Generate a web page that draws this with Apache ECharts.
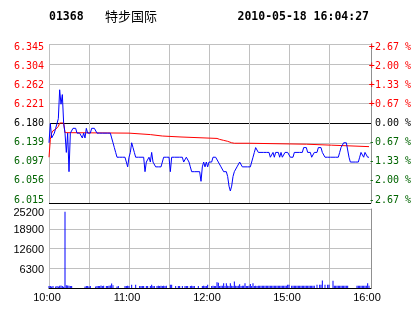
<!DOCTYPE html>
<html><head><meta charset="utf-8">
<script src="https://cdn.jsdelivr.net/npm/echarts@6/dist/echarts.min.js"></script>
<style>html,body{margin:0;padding:0;background:#fff}#c{width:414px;height:314px}</style>
</head><body><div id="c"></div>
<script>
const stockCode = '01368';
const stockName = '特步国际';
const timestamp = '2010-05-18 16:04:27';
const timeLabels = {0: '10:00', 60: '11:00', 120: '12:00', 180: '15:00', 240: '16:00'};
const priceLabels = ['6.015', '6.056', '6.097', '6.139', '6.180', '6.221', '6.262', '6.304', '6.345'];
const pctLabels = ['-2.67 %', '-2.00 %', '-1.33 %', '-0.67 %', ' 0.00 %', '+0.67 %', '+1.33 %', '+2.00 %', '+2.67 %'];
const volumeLabels = ['', '6300', '12600', '18900', '25200'];
const priceMin = 6.015;
const priceMax = 6.345;
const volumeMax = 25200;
const sessionMinutes = 240;

// last price per minute (minute 0 = 10:00, 150 = 12:30/14:30, 240 = 16:00)
const prices = [
  6.14, 6.18, 6.15, 6.15, 6.16, 6.17, 6.18, 6.19, 6.25, 6.22,
  6.24, 6.18, 6.16, 6.12, 6.16, 6.08, 6.16, 6.16, 6.17, 6.17,
  6.17, 6.16, 6.16, 6.16, 6.16, 6.15, 6.16, 6.15, 6.17, 6.16,
  6.16, 6.16, 6.17, 6.17, 6.17, 6.17, 6.16, 6.16, 6.16, 6.16,
  6.16, 6.16, 6.16, 6.16, 6.16, 6.16, 6.16, 6.15, 6.14, 6.13,
  6.12, 6.11, 6.11, 6.11, 6.11, 6.11, 6.11, 6.11, 6.10, 6.09,
  6.11, 6.12, 6.14, 6.13, 6.12, 6.11, 6.11, 6.11, 6.11, 6.11,
  6.11, 6.11, 6.08, 6.10, 6.10, 6.11, 6.10, 6.12, 6.10, 6.10,
  6.09, 6.09, 6.09, 6.09, 6.09, 6.10, 6.11, 6.11, 6.11, 6.11,
  6.11, 6.08, 6.11, 6.11, 6.11, 6.11, 6.11, 6.11, 6.11, 6.11,
  6.11, 6.10, 6.10, 6.11, 6.11, 6.10, 6.09, 6.08, 6.08, 6.08,
  6.08, 6.08, 6.08, 6.08, 6.06, 6.09, 6.10, 6.09, 6.10, 6.09,
  6.10, 6.10, 6.10, 6.11, 6.11, 6.11, 6.11, 6.10, 6.10, 6.09,
  6.09, 6.08, 6.08, 6.08, 6.07, 6.05, 6.04, 6.05, 6.07, 6.08,
  6.08, 6.09, 6.09, 6.10, 6.10, 6.09, 6.09, 6.09, 6.09, 6.09,
  6.09, 6.09, 6.09, 6.11, 6.12, 6.13, 6.13, 6.12, 6.12, 6.12,
  6.12, 6.12, 6.12, 6.12, 6.12, 6.12, 6.11, 6.11, 6.12, 6.11,
  6.12, 6.12, 6.12, 6.11, 6.12, 6.11, 6.11, 6.12, 6.12, 6.12,
  6.12, 6.11, 6.11, 6.11, 6.12, 6.12, 6.12, 6.12, 6.12, 6.12,
  6.12, 6.13, 6.13, 6.13, 6.12, 6.12, 6.12, 6.11, 6.11, 6.12,
  6.12, 6.12, 6.13, 6.13, 6.13, 6.12, 6.12, 6.11, 6.11, 6.11,
  6.11, 6.11, 6.11, 6.11, 6.11, 6.11, 6.11, 6.11, 6.12, 6.13,
  6.13, 6.14, 6.14, 6.14, 6.14, 6.11, 6.10, 6.10, 6.10, 6.10,
  6.10, 6.10, 6.10, 6.11, 6.12, 6.12, 6.11, 6.12, 6.12, 6.11,
  6.11
];

// average price line, read at its turning points
const avgMinutes = [0, 1, 2, 3, 5, 7, 8, 11, 12, 60, 61, 76, 77, 85, 86, 99, 100, 126, 128, 131, 134, 137, 139, 150, 151, 193, 194, 212, 213, 240];
const avgPrices = [6.110, 6.147, 6.160, 6.165, 6.168, 6.174, 6.181, 6.181, 6.161, 6.160, 6.157, 6.157, 6.154, 6.154, 6.152, 6.152, 6.149, 6.149, 6.147, 6.145, 6.143, 6.140, 6.139, 6.139, 6.137, 6.137, 6.135, 6.135, 6.132, 6.132];

// volume per minute
const volumes = [
  600, 600, 500, 600, 0, 500, 600, 500, 700, 800,
  600, 400, 24300, 900, 800, 700, 600, 600, 0, 0,
  0, 0, 0, 0, 0, 0, 0, 500, 600, 600,
  500, 600, 0, 0, 0, 500, 600, 600, 600, 800,
  600, 700, 0, 600, 600, 700, 800, 1400, 900, 0,
  0, 500, 600, 0, 0, 0, 0, 600, 600, 700,
  600, 0, 1000, 0, 0, 1000, 0, 0, 600, 600,
  600, 600, 0, 600, 600, 0, 600, 1000, 600, 600,
  0, 600, 700, 600, 700, 600, 700, 600, 700, 0,
  0, 1000, 1000, 0, 0, 600, 0, 600, 600, 0,
  600, 0, 600, 600, 600, 0, 600, 700, 600, 600,
  0, 0, 600, 0, 0, 600, 700, 600, 600, 1000,
  0, 0, 600, 700, 600, 600, 1800, 1700, 600, 700,
  700, 1500, 600, 1500, 700, 600, 1500, 700, 600, 2100,
  700, 600, 700, 1200, 600, 700, 700, 1500, 600, 600,
  700, 1300, 600, 1500, 600, 700, 600, 700, 700, 700,
  700, 700, 700, 700, 700, 700, 700, 700, 700, 700,
  700, 700, 700, 700, 700, 700, 700, 700, 700, 1000,
  1000, 0, 700, 700, 700, 700, 700, 700, 700, 700,
  700, 700, 700, 700, 700, 700, 700, 700, 700, 700,
  0, 1000, 0, 1000, 1000, 2400, 0, 1000, 0, 1000,
  1000, 0, 0, 2300, 700, 700, 700, 700, 700, 700,
  700, 700, 700, 700, 700, 0, 0, 0, 0, 0,
  0, 700, 700, 700, 700, 700, 700, 700, 700, 1500,
  700
];

const GRID = '#c0c0c0';
const BORDER = '#909090';
const RED = '#ff0000';
const GREEN = '#006400';
const monoFont = '"DejaVu Sans Mono", monospace';
const sansFont = '"Liberation Sans", Arial, sans-serif';
const xSplitColors = [GRID, GRID, GRID, GRID, GRID, GRID, GRID, GRID, 'rgba(0,0,0,0)', 'rgba(0,0,0,0)'];
const ySplitColors = ['#000', GRID, GRID, GRID, '#000', GRID, GRID, GRID, GRID];
const labelColor = v => (v > 0 ? RED : (v < 0 ? GREEN : '#000'));

const chart = echarts.init(document.getElementById('c'), null, {renderer: 'canvas'});
const xMax = sessionMinutes + 1.5;
chart.setOption({
  animation: false,
  backgroundColor: '#fff',
  graphic: [
    {type: 'text', x: 49, y: 17, style: {text: stockCode, font: 'bold 11.5px ' + monoFont, fill: '#000', verticalAlign: 'middle'}},
    {type: 'text', x: 105, y: 16, style: {text: stockName, font: '13px "Noto Sans CJK SC"', fill: '#000', verticalAlign: 'middle'}},
    {type: 'text', x: 369, y: 17, style: {text: timestamp, font: 'bold 11.5px ' + monoFont, fill: '#000', align: 'right', verticalAlign: 'middle'}}
  ],
  grid: [
    {left: 49, top: 44, width: 322, height: 159},
    {left: 49, top: 209, width: 322, height: 79},
    {left: 49, top: 47.2, width: 322, height: 152.8}
  ],
  xAxis: [
    {gridIndex: 0, type: 'value', min: 0, max: xMax, interval: 30,
      axisLine: {show: false}, axisTick: {show: false}, axisLabel: {show: false},
      splitLine: {show: true, lineStyle: {color: xSplitColors, width: 1}}},
    {gridIndex: 1, type: 'value', min: 0, max: xMax, interval: 30,
      axisLine: {show: true, onZero: false, lineStyle: {color: '#000', width: 1}}, axisTick: {show: false},
      axisLabel: {show: true, margin: 4, color: '#000', fontFamily: sansFont, fontSize: 11,
        formatter: v => (timeLabels[v] !== undefined ? '{t|' + timeLabels[v] + '}' : ''),
        rich: {t: {fontFamily: sansFont, fontSize: 11, color: '#000', padding: [0, 4, 0, 0]}}},
      splitLine: {show: true, lineStyle: {color: xSplitColors, width: 1}}},
    {gridIndex: 2, type: 'value', min: 0, max: 1, show: false}
  ],
  yAxis: [
    {gridIndex: 0, type: 'value', min: priceMin, max: priceMax, show: false},
    {gridIndex: 0, type: 'value', min: -4, max: 4, interval: 1, position: 'right',
      axisLine: {show: true, lineStyle: {color: BORDER, width: 1}}, axisTick: {show: false}, axisLabel: {show: false},
      splitLine: {show: true, lineStyle: {color: ySplitColors, width: 1}}},
    {gridIndex: 1, type: 'value', min: 0, max: volumeMax, interval: volumeMax / 4, position: 'left',
      axisLine: {show: false}, axisTick: {show: false},
      axisLabel: {show: true, margin: 5, formatter: (v, i) => {
          const s = volumeLabels[Math.round(v / (volumeMax / 4))];
          if (!s) return '';
          return (v >= volumeMax ? '{top|' : '{n|') + s + '}';
        },
        rich: {top: {fontFamily: sansFont, fontSize: 11, color: '#000', padding: [8, 0, 0, 0]},
               n: {fontFamily: sansFont, fontSize: 11, color: '#000', padding: [3, 0, 0, 0]}}},
      splitLine: {show: true, lineStyle: {color: GRID, width: 1}}},
    {gridIndex: 1, type: 'value', min: 0, max: 1, position: 'right',
      axisLine: {show: true, lineStyle: {color: BORDER, width: 1}}, axisTick: {show: false}, axisLabel: {show: false}, splitLine: {show: false}},
    {gridIndex: 2, type: 'value', min: -4, max: 4, interval: 1, position: 'left',
      axisLine: {show: false}, axisTick: {show: false}, splitLine: {show: false},
      axisLabel: {show: true, margin: 5, fontFamily: monoFont, fontSize: 10,
        formatter: v => priceLabels[Math.round(v) + 4], color: v => labelColor(Math.round(v))}},
    {gridIndex: 2, type: 'value', min: -4, max: 4, interval: 1, position: 'right',
      axisLine: {show: false}, axisTick: {show: false}, splitLine: {show: false},
      axisLabel: {show: true, margin: 1, fontFamily: monoFont, fontSize: 10,
        formatter: v => pctLabels[Math.round(v) + 4], color: v => labelColor(Math.round(v))}}
  ],
  series: [
    {type: 'line', name: 'avg', xAxisIndex: 0, yAxisIndex: 0, showSymbol: false, z: 3,
      lineStyle: {color: RED, width: 1}, itemStyle: {color: RED},
      data: avgMinutes.map((m, i) => [m, avgPrices[i]])},
    {type: 'line', name: 'price', xAxisIndex: 0, yAxisIndex: 0, showSymbol: false, z: 4,
      lineStyle: {color: '#0000ff', width: 1}, itemStyle: {color: '#0000ff'},
      data: prices.map((p, i) => [i, p])},
    {type: 'bar', name: 'volume', xAxisIndex: 1, yAxisIndex: 2, barWidth: 1,
      itemStyle: {color: '#0000ff'},
      data: volumes.map((v, i) => [i, v])}
  ]
});
</script>
</body></html>
